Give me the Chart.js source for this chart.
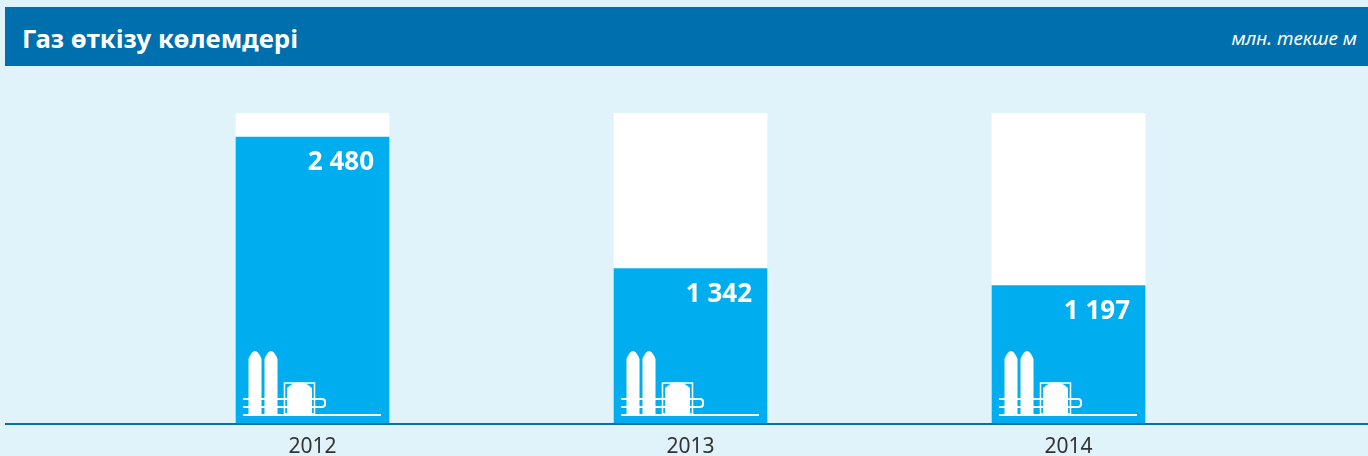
<!DOCTYPE html>
<html lang="kk">
<head>
    <meta charset="UTF-8">
    <title>Газ өткізу көлемдері</title>
    <script src="https://cdn.jsdelivr.net/npm/chart.js"></script>
    <style>
        html, body { margin: 0; padding: 0; width: 1368px; height: 456px; overflow: hidden; background: #e0f3fb; }
        #header { position: absolute; left: 5px; top: 7px; width: 1363px; height: 59px; background: #006fae; color: #fff; font-family: "Noto Sans", sans-serif; }
        #title { position: absolute; left: 17px; top: 14px; font-size: 25.8px; line-height: 34px; font-weight: 700; }
        #unit { position: absolute; right: 11px; top: 18px; font-size: 19px; line-height: 26px; font-style: italic; }
        #chart { position: absolute; left: 0; top: 0; }
    </style>
</head>
<body>
    <canvas id="chart" width="1368" height="456"></canvas>
    <div id="header">
        <div id="title">Газ өткізу көлемдері</div>
        <div id="unit">млн. текше м</div>
    </div>

    <script>
        var years = ['2012', '2013', '2014'];
        var gasVolumes = [2480, 1342, 1197];
        var trackValues = [2687, 2687, 2687];

        function formatVolume(v) {
            return String(v).replace(/\B(?=(\d{3})+$)/g, ' ');
        }

        // small gas plant pictogram, drawn relative to the bar's left edge and base
        function drawPlant(ctx, x, base) {
            ctx.save();
            ctx.fillStyle = '#fff';
            ctx.strokeStyle = '#fff';

            [12.5, 28.5].forEach(function (dx) {
                ctx.beginPath();
                ctx.moveTo(x + dx, base - 9);
                ctx.lineTo(x + dx, base - 65);
                ctx.quadraticCurveTo(x + dx + 6.5, base - 81, x + dx + 13, base - 65);
                ctx.lineTo(x + dx + 13, base - 9);
                ctx.closePath();
                ctx.fill();
            });

            ctx.beginPath();
            ctx.moveTo(x + 51, base - 9);
            ctx.lineTo(x + 51, base - 36);
            ctx.quadraticCurveTo(x + 63.5, base - 48, x + 76, base - 36);
            ctx.lineTo(x + 76, base - 9);
            ctx.closePath();
            ctx.fill();

            ctx.lineWidth = 1.5;
            ctx.strokeRect(x + 48.5, base - 41, 30, 31);

            ctx.lineWidth = 2;
            ctx.beginPath();
            ctx.moveTo(x + 7, base - 25);
            ctx.lineTo(x + 86, base - 25);
            ctx.arcTo(x + 89, base - 25, x + 89, base - 22, 3);
            ctx.lineTo(x + 89, base - 20);
            ctx.arcTo(x + 89, base - 17, x + 86, base - 17, 3);
            ctx.lineTo(x + 7, base - 17);
            ctx.stroke();

            ctx.fillRect(x + 7, base - 10, 138, 2);
            ctx.restore();
        }

        var decorations = {
            id: 'decorations',
            afterDatasetsDraw: function (chart) {
                var ctx = chart.ctx;
                var bars = chart.getDatasetMeta(1).data;
                var base = chart.chartArea.bottom;

                bars.forEach(function (bar, i) {
                    var left = bar.x - bar.width / 2;
                    var right = bar.x + bar.width / 2;
                    drawPlant(ctx, left, base);

                    ctx.save();
                    ctx.fillStyle = '#fff';
                    ctx.font = '700 26px "Noto Sans", sans-serif';
                    ctx.textAlign = 'right';
                    ctx.textBaseline = 'middle';
                    ctx.fillText(formatVolume(gasVolumes[i]), right - 15, bar.y + 26);
                    ctx.restore();
                });

                // baseline runs the full width under the header
                ctx.save();
                ctx.fillStyle = '#0a6fa8';
                ctx.fillRect(5, base - 1, 1363, 2);
                ctx.restore();
            }
        };

        new Chart(document.getElementById('chart'), {
            type: 'bar',
            data: {
                labels: years,
                datasets: [
                    { label: 'track', data: trackValues, backgroundColor: '#fff', borderWidth: 0, order: 2 },
                    { label: 'Газ өткізу көлемдері', data: gasVolumes, backgroundColor: '#00aeef', borderWidth: 0, order: 1 }
                ]
            },
            options: {
                responsive: false,
                animation: false,
                layout: { padding: { left: 123.5, right: 110.5, top: 113, bottom: 0 } },
                datasets: { bar: { grouped: false, barThickness: 153 } },
                plugins: { legend: { display: false }, tooltip: { enabled: false }, title: { display: false } },
                scales: {
                    x: {
                        afterFit: function (scale) { scale.height = 32; },
                        grid: { display: false, drawTicks: false },
                        border: { display: false },
                        ticks: {
                            color: '#333',
                            font: { family: '"Noto Sans", sans-serif', size: 21 },
                            padding: 10,
                            maxRotation: 0
                        }
                    },
                    y: { display: false, min: 0, max: 2687 }
                }
            },
            plugins: [decorations]
        });
    </script>
</body>
</html>
